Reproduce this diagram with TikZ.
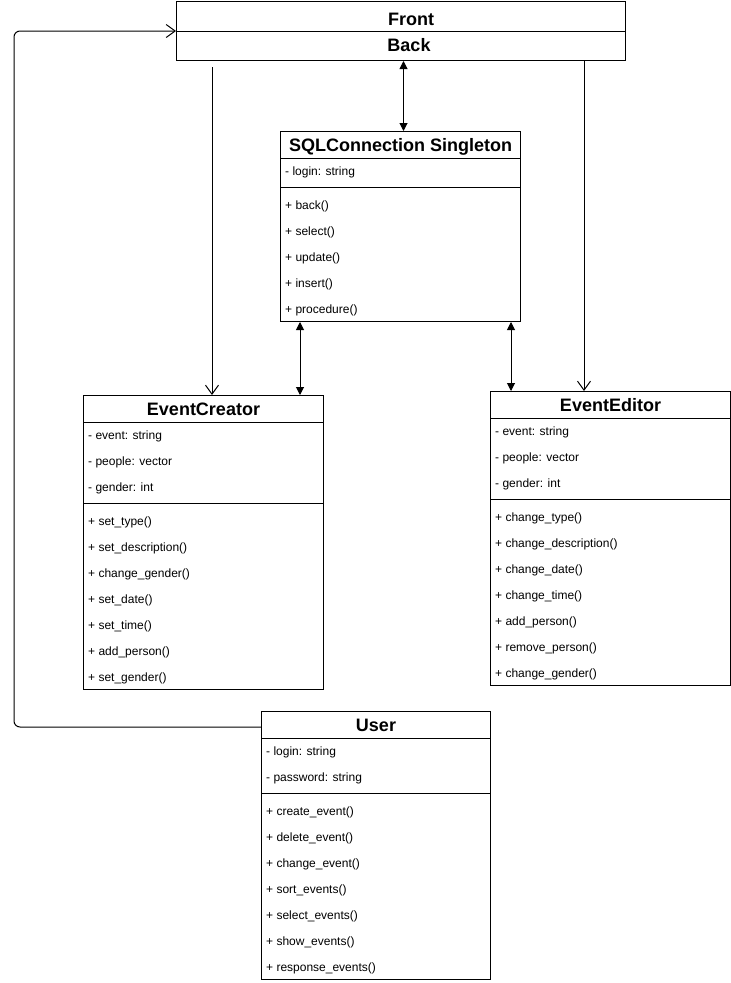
\documentclass[tikz,border=0pt]{standalone}
\usepackage{fontspec}
\setmainfont{Liberation Sans}
\usepackage{tikz}
\usetikzlibrary{arrows.meta,positioning,calc}

\tikzset{
  classbox/.style={draw, line width=1pt, fill=white, inner sep=0pt, anchor=north west},
  classtitle/.style={font=\bfseries\fontsize{18}{20}\selectfont, inner sep=0pt, anchor=base},
  memberline/.style={font=\fontsize{12}{14}\selectfont, inner sep=0pt, anchor=base west},
  link/.style={line width=1pt},
  openhead/.style={-{Straight Barb[length=9pt,width=13pt,line width=1pt]}},
  bothheads/.style={{Triangle[length=8pt,width=8pt]}-{Triangle[length=8pt,width=8pt]}}
}

\begin{document}
\begin{tikzpicture}[x=1pt, y=-1pt]
  \useasboundingbox (0,0) rectangle (731,983);

  % Front / Back
  \node[classbox, minimum width=449pt, minimum height=30pt] (front) at (176,1) {};
  \node[classbox, minimum width=449pt, minimum height=29pt] (back) at (176,31) {};
  \node[classtitle] (fronttitle) at ($(front.north)+(10,24)$) {Front};
  \node[classtitle] (backtitle) at ($(back.north)+(8,20.5)$) {Back};

  % SQLConnection Singleton
  \node[classbox, minimum width=240pt, minimum height=190pt] (sql) at (280,131) {};
  \node[classtitle] (sqltitle) at ($(sql.north)+(0,20.5)$) {SQLConnection Singleton};
  \draw[link] ($(sql.north west)+(0,27)$) -- ($(sql.north east)+(0,27)$)
              ($(sql.north west)+(0,56)$) -- ($(sql.north east)+(0,56)$);
  \foreach \t [count=\i] in {- login: string}
    \node[memberline] (sqla\i) at ($(sql.north west)+(5,18+26*\i)$) {\t};
  \foreach \t [count=\i] in {+ back(), + select(), + update(), + insert(), + procedure()}
    \node[memberline] (sqlm\i) at ($(sql.north west)+(5,52+26*\i)$) {\t};

  % EventCreator
  \node[classbox, minimum width=240pt, minimum height=294pt] (creator) at (83,395) {};
  \node[classtitle] (creatortitle) at ($(creator.north)+(0,20.5)$) {EventCreator};
  \draw[link] ($(creator.north west)+(0,27)$) -- ($(creator.north east)+(0,27)$)
              ($(creator.north west)+(0,108)$) -- ($(creator.north east)+(0,108)$);
  \foreach \t [count=\i] in {- event: string, - people: vector, - gender: int}
    \node[memberline] (creatora\i) at ($(creator.north west)+(5,18+26*\i)$) {\t};
  \foreach \t [count=\i] in {+ set\_type(), + set\_description(), + change\_gender(),
      + set\_date(), + set\_time(), + add\_person(), + set\_gender()}
    \node[memberline] (creatorm\i) at ($(creator.north west)+(5,104+26*\i)$) {\t};

  % EventEditor
  \node[classbox, minimum width=240pt, minimum height=294pt] (editor) at (490,391) {};
  \node[classtitle] (editortitle) at ($(editor.north)+(0,20.5)$) {EventEditor};
  \draw[link] ($(editor.north west)+(0,27)$) -- ($(editor.north east)+(0,27)$)
              ($(editor.north west)+(0,108)$) -- ($(editor.north east)+(0,108)$);
  \foreach \t [count=\i] in {- event: string, - people: vector, - gender: int}
    \node[memberline] (editora\i) at ($(editor.north west)+(5,18+26*\i)$) {\t};
  \foreach \t [count=\i] in {+ change\_type(), + change\_description(), + change\_date(),
      + change\_time(), + add\_person(), + remove\_person(), + change\_gender()}
    \node[memberline] (editorm\i) at ($(editor.north west)+(5,104+26*\i)$) {\t};

  % User
  \node[classbox, minimum width=229pt, minimum height=268pt] (user) at (261,711) {};
  \node[classtitle] (usertitle) at ($(user.north)+(0,20.5)$) {User};
  \draw[link] ($(user.north west)+(0,27)$) -- ($(user.north east)+(0,27)$)
              ($(user.north west)+(0,82)$) -- ($(user.north east)+(0,82)$);
  \foreach \t [count=\i] in {- login: string, - password: string}
    \node[memberline] (usera\i) at ($(user.north west)+(5,18+26*\i)$) {\t};
  \foreach \t [count=\i] in {+ create\_event(), + delete\_event(), + change\_event(),
      + sort\_events(), + select\_events(), + show\_events(), + response\_events()}
    \node[memberline] (userm\i) at ($(user.north west)+(5,78+26*\i)$) {\t};

  % connectors
  \coordinate (fl) at ($(back.south west)+(36,6)$);
  \coordinate (fr) at ($(back.south east)+(-42,0)$);
  \coordinate (sc) at ($(sql.south west)+(20,0)$);
  \coordinate (se) at ($(sql.south east)+(-10,0)$);
  \coordinate (ul) at ($(user.north west)+(0,16)$);
  \draw[link, openhead] (fl) -- (fl |- creator.north);
  \draw[link, openhead] (fr) -- (fr |- editor.north);
  \draw[link, bothheads] ($(back.south)+(2.5,0)$) -- ($(sql.north)+(3,0)$);
  \draw[link, bothheads] (sc) -- (sc |- creator.north);
  \draw[link, bothheads] (se) -- (se |- editor.north);
  \draw[link, openhead, rounded corners=6pt] (ul) -- ++(-247,0) |- (back.north west);
\end{tikzpicture}
\end{document}
